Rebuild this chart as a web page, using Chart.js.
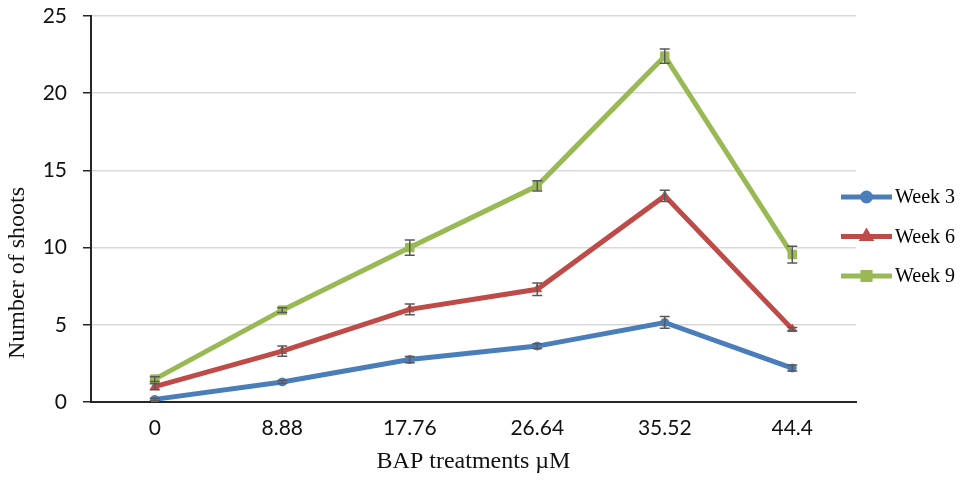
<!DOCTYPE html>
<html>
<head>
<meta charset="utf-8">
<script src="https://cdn.jsdelivr.net/npm/chart.js@4.4.1/dist/chart.umd.min.js"></script>
<style>
  html, body { margin: 0; padding: 0; background: #fff; }
  #wrap { width: 971px; height: 484px; }
</style>
</head>
<body>
<div id="wrap"><canvas id="grafico" width="971" height="484"></canvas></div>
<script>
// datos
const tratamientos = ['0', '8.88', '17.76', '26.64', '35.52', '44.4']
const semana3 = [0.17, 1.3, 2.75, 3.62, 5.15, 2.2]
const semana6 = [0.99, 3.3, 6.0, 7.3, 13.35, 4.72]
const semana9 = [1.48, 5.95, 10.0, 14.0, 22.4, 9.55]
const errorSemana3 = [0.08, 0.1, 0.2, 0.15, 0.38, 0.2]
const errorSemana6 = [0.2, 0.33, 0.35, 0.4, 0.36, 0.1]
const errorSemana9 = [0.15, 0.15, 0.5, 0.33, 0.46, 0.54]

const azul = '#4a7ebb'
const rojo = '#be4b48'
const verde = '#98b954'
const fuenteSerif = '"Liberation Serif", "Times New Roman", serif'

const serieLinea = (label, data, color, estilo, radio) => ({
    label,
    data,
    borderColor: color,
    backgroundColor: color,
    borderWidth: 5,
    pointStyle: estilo,
    pointRadius: radio,
    pointHoverRadius: radio,
    pointBorderWidth: 1,
    pointBorderColor: color,
    pointBackgroundColor: color,
    tension: 0,
    fill: false
})

const errores = [errorSemana3, errorSemana6, errorSemana9]

// barras de error dibujadas con la escala y
const barrasError = {
    id: 'barrasError',
    afterDatasetsDraw(chart) {
        const ctx = chart.ctx
        const escalaY = chart.scales.y
        ctx.save()
        ctx.strokeStyle = '#595959'
        ctx.lineWidth = 1.5
        chart.data.datasets.forEach((ds, i) => {
            const meta = chart.getDatasetMeta(i)
            meta.data.forEach((punto, j) => {
                const v = ds.data[j]
                const e = errores[i][j]
                const yAlto = escalaY.getPixelForValue(v + e)
                const yBajo = escalaY.getPixelForValue(v - e)
                ctx.beginPath()
                ctx.moveTo(punto.x, yAlto)
                ctx.lineTo(punto.x, yBajo)
                ctx.moveTo(punto.x - 5, yAlto)
                ctx.lineTo(punto.x + 5, yAlto)
                ctx.moveTo(punto.x - 5, yBajo)
                ctx.lineTo(punto.x + 5, yBajo)
                ctx.stroke()
            })
        })
        ctx.restore()
    }
}

// leyenda a la derecha y titulo del eje y (desplazado hacia abajo como en el original)
const leyenda = {
    id: 'leyenda',
    afterDraw(chart) {
        const ctx = chart.ctx
        const x0 = 841
        const x1 = 892
        const radiosLeyenda = [4, 4, 5]
        ctx.save()
        chart.data.datasets.forEach((ds, i) => {
            const y = 197 + i * 39.5
            ctx.strokeStyle = ds.borderColor
            ctx.lineWidth = 5
            ctx.beginPath()
            ctx.moveTo(x0, y)
            ctx.lineTo(x1, y)
            ctx.stroke()
            ctx.fillStyle = ds.borderColor
            Chart.helpers.drawPoint(ctx, {
                pointStyle: ds.pointStyle,
                radius: radiosLeyenda[i],
                borderWidth: 1,
                rotation: 0
            }, (x0 + x1) / 2, y)
            ctx.fillStyle = '#000'
            ctx.font = '20px ' + fuenteSerif
            ctx.textBaseline = 'middle'
            ctx.textAlign = 'left'
            ctx.fillText(ds.label, 895, y + 1)
        })

        ctx.translate(18, 273)
        ctx.rotate(-Math.PI / 2)
        ctx.fillStyle = '#111'
        ctx.font = '24px ' + fuenteSerif
        ctx.textAlign = 'center'
        ctx.textBaseline = 'middle'
        ctx.fillText('Number of shoots', 0, 0)
        ctx.restore()
    }
}

const fondoBlanco = {
    id: 'fondoBlanco',
    beforeDraw(chart) {
        const ctx = chart.ctx
        ctx.save()
        ctx.fillStyle = '#fff'
        ctx.fillRect(0, 0, chart.width, chart.height)
        ctx.restore()
    }
}

new Chart(document.getElementById('grafico'), {
    type: 'line',
    data: {
        labels: tratamientos,
        datasets: [
            serieLinea('Week 3', semana3, azul, 'circle', 4),
            serieLinea('Week 6', semana6, rojo, 'triangle', 5),
            serieLinea('Week 9', semana9, verde, 'rect', 6)
        ]
    },
    options: {
        responsive: false,
        animation: false,
        devicePixelRatio: 1,
        layout: { padding: { top: 16, right: 115, left: 0, bottom: 0 } },
        plugins: {
            legend: { display: false },
            tooltip: { enabled: false }
        },
        scales: {
            x: {
                offset: true,
                grid: { display: false, drawTicks: false },
                border: { display: true, color: '#262626', width: 2 },
                ticks: {
                    color: '#111',
                    padding: 14,
                    font: { family: 'Lato', size: 21 }
                },
                title: {
                    display: true,
                    text: 'BAP treatments µM',
                    color: '#111',
                    padding: { top: 4, bottom: 8 },
                    font: { family: fuenteSerif, size: 24 }
                },
                afterFit: s => { s.height = 82 }
            },
            y: {
                min: 0,
                max: 25,
                ticks: {
                    stepSize: 5,
                    color: '#111',
                    padding: 16,
                    font: { family: 'Lato', size: 21 }
                },
                grid: {
                    color: '#d9d9d9',
                    lineWidth: 1.5,
                    tickColor: '#262626',
                    tickLength: 8
                },
                border: { display: true, color: '#262626', width: 2 },
                afterFit: s => {
                    s.width = 91
                    s.paddingTop = 0
                    s.paddingBottom = 0
                }
            }
        }
    },
    plugins: [fondoBlanco, barrasError, leyenda]
})
</script>
</body>
</html>
